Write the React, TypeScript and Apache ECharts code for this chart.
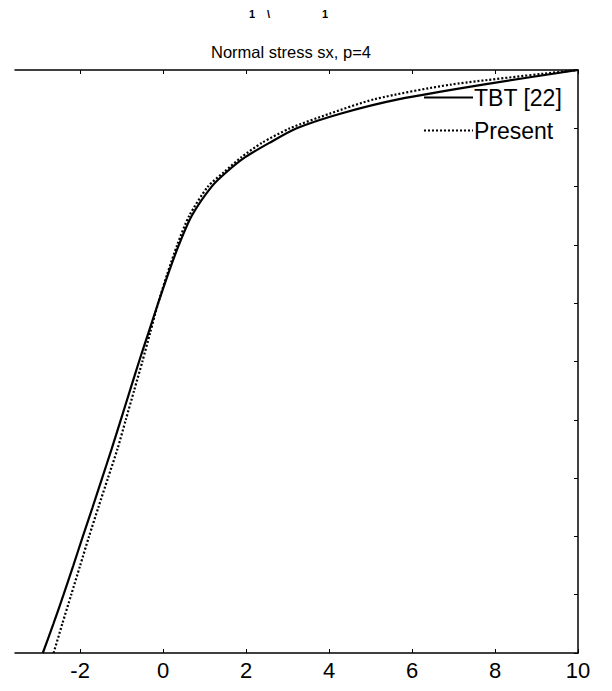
import React, { useEffect, useRef } from "react";
import * as echarts from "echarts";

// Through-thickness position z/h (vertical axis)
const zLevels = [
  -0.5, -0.45, -0.4, -0.35, -0.3, -0.25, -0.2, -0.15, -0.1, -0.05, 0, 0.05, 0.1,
  0.15, 0.2, 0.25, 0.3, 0.325, 0.35, 0.375, 0.4, 0.425, 0.45, 0.475, 0.5,
];

// Normal stress sx, TBT reference solution
const tbtStress = [
  -2.9, -2.645, -2.4, -2.165, -1.935, -1.7, -1.47, -1.24, -1.02, -0.8, -0.58, -0.35,
  -0.12, 0.12, 0.38, 0.69, 1.17, 1.53, 1.97, 2.56, 3.22, 4.27, 5.69, 7.71, 10.0,
];

// Normal stress sx, present model
const presentStress = [
  -2.64, -2.43, -2.215, -2.0, -1.785, -1.56, -1.33, -1.1, -0.9, -0.7, -0.5, -0.31,
  -0.12, 0.1, 0.34, 0.63, 1.08, 1.47, 1.88, 2.38, 3.06, 4.01, 5.1, 6.94, 10.0,
];

const xTickValues = [-2, 0, 2, 4, 6, 8, 10];
const seriesNames = ["TBT [22]", "Present"];
const chartTitle = "Normal stress sx, p=4";

const FONT = "Liberation Sans, Arial, Helvetica, sans-serif";

export default function App() {
  const ref = useRef<HTMLDivElement>(null);

  useEffect(() => {
    if (!ref.current) return;
    const chart = echarts.init(ref.current, null, { renderer: "svg" });

    const pairs = (xs: number[]) => xs.map((x, i) => [x, zLevels[i]]);

    const axisLine = { show: true, onZero: false, lineStyle: { color: "#000", width: 1.5 } };
    const tick = {
      show: true,
      inside: true,
      length: 4,
      lineStyle: { color: "#000", width: 1 },
    };

    chart.setOption({
      animation: false,
      backgroundColor: "#fff",
      title: {
        text: chartTitle,
        left: 286,
        textAlign: "center",
        top: 38,
        textStyle: { fontFamily: FONT, fontSize: 16.5, fontWeight: "normal", color: "#000" },
      },
      legend: {
        orient: "vertical",
        left: 418,
        top: 81,
        itemWidth: 49,
        itemHeight: 23,
        itemGap: 10,
        itemStyle: { opacity: 0 },
        textStyle: { fontFamily: FONT, fontSize: 23, color: "#000", padding: [0, 0, 0, -4] },
        data: seriesNames,
      },
      grid: { left: 15, right: 34, top: 70, bottom: 38 },
      xAxis: [
        {
          type: "value",
          position: "bottom",
          min: -3.57,
          max: 10,
          axisLine,
          splitLine: { show: false },
          axisTick: { ...tick, customValues: xTickValues },
          axisLabel: {
            show: true,
            customValues: xTickValues,
            margin: 6,
            fontFamily: FONT,
            fontSize: 22,
            color: "#000",
          },
        },
        {
          type: "value",
          position: "top",
          min: -3.57,
          max: 10,
          axisLine,
          splitLine: { show: false },
          axisTick: { ...tick, customValues: xTickValues },
          axisLabel: { show: false },
        },
      ],
      yAxis: {
        type: "value",
        position: "right",
        min: -0.5,
        max: 0.5,
        interval: 0.1,
        axisLine,
        splitLine: { show: false },
        axisTick: tick,
        axisLabel: { show: false },
      },
      graphic: [
        {
          type: "text",
          x: 249,
          y: 8,
          style: { text: "1", font: `bold 11px ${FONT}`, fill: "#000" },
        },
        {
          type: "text",
          x: 267,
          y: 8,
          style: { text: "\\", font: `bold 11px ${FONT}`, fill: "#000" },
        },
        {
          type: "text",
          x: 322,
          y: 8,
          style: { text: "1", font: `bold 11px ${FONT}`, fill: "#000" },
        },
      ],
      series: [
        {
          name: seriesNames[0],
          type: "line",
          data: pairs(tbtStress),
          showSymbol: false,
          symbol: "none",
          smooth: 0.25,
          lineStyle: { color: "#000", width: 2.2, type: "solid" },
          itemStyle: { color: "#000" },
        },
        {
          name: seriesNames[1],
          type: "line",
          data: pairs(presentStress),
          showSymbol: false,
          symbol: "none",
          smooth: 0.25,
          lineStyle: { color: "#000", width: 2.2, type: [2, 2] },
          itemStyle: { color: "#000" },
        },
      ],
    });

    return () => chart.dispose();
  }, []);

  return (
    <div
      ref={ref}
      style={{ position: "absolute", left: 0, top: 0, width: 612, height: 691, background: "#fff" }}
    />
  );
}
